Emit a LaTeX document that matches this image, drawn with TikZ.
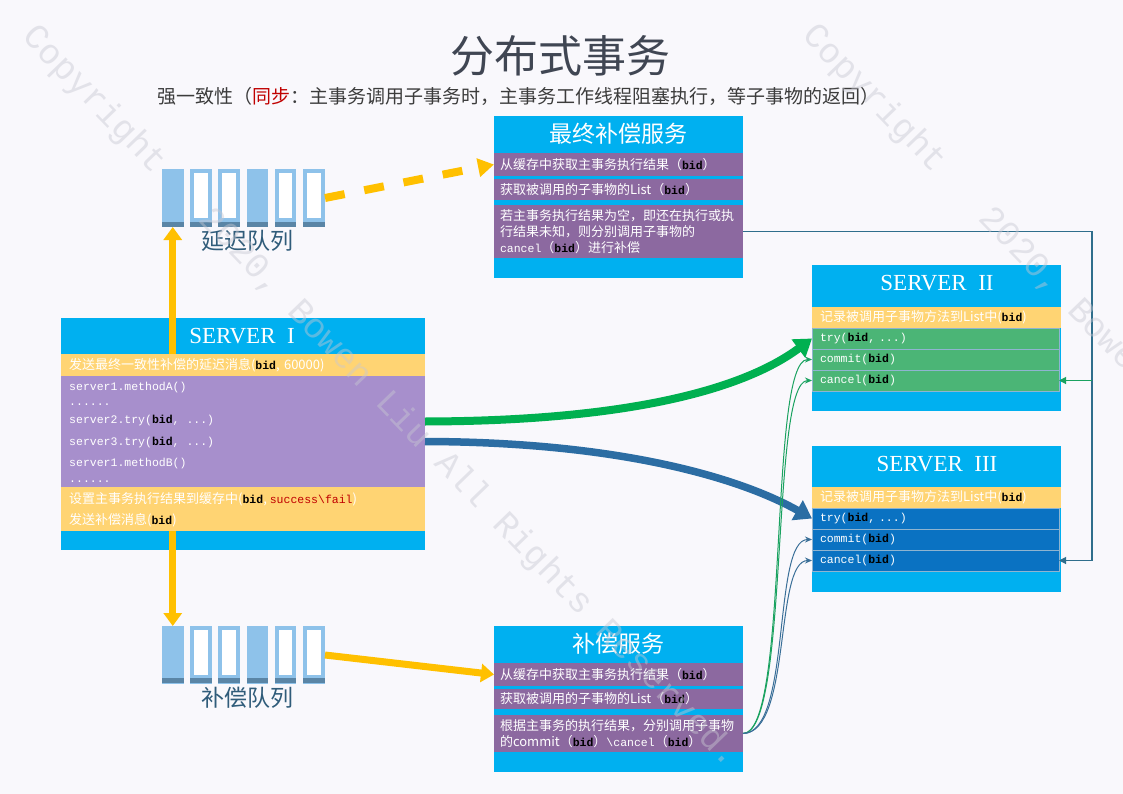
\documentclass[tikz,border=0pt]{standalone}
\usepackage{fontspec}
\setmainfont{Noto Sans CJK SC}
\setmonofont{Liberation Mono}
\newfontfamily\serifen{Liberation Serif}
\newfontfamily\wmfont{Liberation Mono}
\usetikzlibrary{arrows.meta}
\definecolor{bgc}{RGB}{249,248,252}
\definecolor{cyanc}{HTML}{00B0F0}
\definecolor{purS}{HTML}{8C69A0}
\definecolor{purL}{HTML}{A78FCC}
\definecolor{yelR}{HTML}{FFD473}
\definecolor{grnR}{HTML}{4BB576}
\definecolor{bluR}{HTML}{0A72C2}
\definecolor{rowln}{HTML}{8FB4D0}
\definecolor{arrY}{HTML}{FFC000}
\definecolor{arrG}{HTML}{00B050}
\definecolor{arrB}{HTML}{2C6DA3}
\definecolor{thinG}{HTML}{1AA260}
\definecolor{thinB}{HTML}{3A6F98}
\definecolor{elbC}{HTML}{2F6E8C}
\definecolor{qbar}{HTML}{8EC2EA}
\definecolor{qdark}{HTML}{5A85A6}
\definecolor{qlab}{HTML}{305C7A}
\definecolor{titc}{HTML}{404653}
\definecolor{subc}{HTML}{3C3C3C}
\definecolor{redc}{HTML}{C00000}
\definecolor{wmc}{RGB}{200,200,210}
\newcommand\monoS{\ttfamily\fontsize{11.5}{14}\selectfont}
\newcommand\bidtxt{\textcolor{black}{\monoS\bfseries bid}}
\begin{document}
\begin{tikzpicture}[x=1pt,y=-1pt,
  cbox/.style={fill=cyanc, inner sep=0pt, outer sep=0pt, anchor=north west, minimum width=249pt, minimum height=146pt},
  hdrtxt/.style={text=white, inner sep=0pt, font=\fontsize{23}{26}\selectfont},
  srvtxt/.style={text=white, inner sep=0pt, font=\serifen\fontsize{23}{26}\selectfont},
  rowst/.style={anchor=north west, inner xsep=6pt, inner ysep=0pt, outer sep=0pt, align=left, text=white, font=\fontsize{13}{16}\selectfont},
  svcrow/.style={rowst, fill=purS, text width=237pt},
  yrow/.style={rowst, fill=yelR, inner xsep=8pt},
  grnrow/.style={rowst, fill=grnR, draw=rowln, line width=0.6pt, inner xsep=8pt, text width=231pt, minimum height=21pt, font=\monoS},
  blurow/.style={grnrow, fill=bluR},
  codetxt/.style={anchor=west, inner sep=0pt, text=white, font=\monoS},
  ctext/.style={anchor=west, inner sep=0pt, text=white, font=\fontsize{13}{16}\selectfont},
  qbarst/.style={fill=qbar, inner sep=0pt, outer sep=0pt, minimum width=21.5pt, minimum height=58pt, anchor=north west},
  qarea/.style={inner sep=0pt, outer sep=0pt, minimum width=163pt, minimum height=58pt, anchor=north west},
  qlabel/.style={text=qlab, inner sep=0pt, font=\fontsize{23}{26}\selectfont},
  yarrow/.style={draw=arrY, line width=7pt, -{Triangle[length=13pt,width=18pt]}},
  ydash/.style={draw=arrY, line width=8pt, dash pattern=on 20pt off 20pt, -{Triangle[length=16pt,width=18pt]}},
  garrow/.style={draw=arrG, line width=8pt, -{Triangle[length=17pt,width=22pt]}},
  barrow/.style={draw=arrB, line width=7.5pt, -{Triangle[length=17pt,width=22pt]}},
  thing/.style={draw=thinG, line width=1pt, -{Stealth[length=7pt,width=6pt]}},
  thinb/.style={draw=thinB, line width=1pt, -{Stealth[length=7pt,width=6pt]}},
  elb/.style={draw=elbC, line width=1.1pt, -{Triangle[length=7pt,width=7pt]}},
  elbg/.style={draw=thinG, line width=1.1pt, -{Triangle[length=7pt,width=7pt]}},
  wmark/.style={inner sep=0pt, text=wmc, text opacity=0.45, font=\wmfont\fontsize{35.3}{40}\selectfont}
]
\useasboundingbox (0,0) rectangle (1123,794);
\fill[bgc] (0,0) rectangle (1123,794);

% title
\node[text=titc, inner sep=0pt, font=\fontsize{44}{48}\selectfont] (title) at (560,56) {分布式事务};
\node[text=subc, inner sep=0pt, font=\fontsize{19}{22}\selectfont] (sub) at (518,96) {强一致性（\textcolor{redc}{同步}：主事务调用子事务时，主事务工作线程阻塞执行，等子事物的返回）};

% final compensation service
\node[cbox, minimum height=162pt] (fb) at (494,116) {};
\node[hdrtxt] (fbt) at (618.5,134) {最终补偿服务};
\node[svcrow, minimum height=23pt] (fb1) at (494,153) {从缓存中获取主事务执行结果（\bidtxt）};
\node[svcrow, minimum height=21pt] (fb2) at (494,179) {获取被调用的子事物的List（\bidtxt）};
\node[svcrow, minimum height=53pt] (fb3) at (494,205) {若主事务执行结果为空，即还在执行或执\\行结果未知，则分别调用子事物的\\{\monoS cancel}（\bidtxt）进行补偿};

% compensation service
\node[cbox] (cb) at (494,626) {};
\node[hdrtxt] (cbt) at (618.5,644) {补偿服务};
\node[svcrow, minimum height=23pt] (cb1) at (494,663) {从缓存中获取主事务执行结果（\bidtxt）};
\node[svcrow, minimum height=20pt] (cb2) at (494,689) {获取被调用的子事物的List（\bidtxt）};
\node[svcrow, minimum height=37pt] (cb3) at (494,715) {根据主事务的执行结果，分别调用子事物\\的commit（\bidtxt）{\monoS\textbackslash cancel}（\bidtxt）};

% SERVER I
\node[cbox, minimum width=364pt, minimum height=232pt] (s1) at (61,318) {};
\node[srvtxt] (s1t) at (242,336) {SERVER~~I};
\node[yrow, text width=348pt, minimum height=22pt] (s1r1) at (61,354) {发送最终一致性补偿的延迟消息(\bidtxt, 60000)};
\node[rowst, fill=purL, minimum width=364pt, minimum height=111pt] (s1r2) at (61,376) {};
\node[yrow, minimum width=364pt, minimum height=44pt] (s1r3) at (61,487) {};
\node[codetxt] (c1) at (69,388) {server1.methodA()};
\node[codetxt] (c2) at (69,405) {......};
\node[codetxt] (c3) at (69,421) {server2.try(\bidtxt, ...)};
\node[codetxt] (c4) at (69,443) {server3.try(\bidtxt, ...)};
\node[codetxt] (c5) at (69,464) {server1.methodB()};
\node[codetxt] (c6) at (69,482) {......};
\node[ctext] (t1) at (69,499) {设置主事务执行结果到缓存中(\bidtxt, \textcolor{redc}{\monoS success\textbackslash fail})};
\node[ctext] (t2) at (69,520) {发送补偿消息(\bidtxt)};

% SERVER II
\node[cbox] (s2) at (812,265) {};
\node[srvtxt] (s2t) at (937,283) {SERVER~~II};
\node[yrow, text width=233pt, minimum height=21pt] (s2y) at (812,307) {记录被调用子事物方法到List中(\bidtxt)};
\node[grnrow] (s2a) at (812,328) {try(\bidtxt, ...)};
\node[grnrow] (s2b) at (812,349) {commit(\bidtxt)};
\node[grnrow] (s2c) at (812,370) {cancel(\bidtxt)};

% SERVER III
\node[cbox] (s3) at (812,446) {};
\node[srvtxt] (s3t) at (937,464) {SERVER~~III};
\node[yrow, text width=233pt, minimum height=21pt] (s3y) at (812,487) {记录被调用子事物方法到List中(\bidtxt)};
\node[blurow] (s3a) at (812,508) {try(\bidtxt, ...)};
\node[blurow] (s3b) at (812,529) {commit(\bidtxt)};
\node[blurow] (s3c) at (812,550) {cancel(\bidtxt)};

% queues
\node[qarea] (dq) at (162,169) {};
\foreach \i/\h in {1/0,2/1,3/1,4/0,5/1,6/1}{
  \pgfmathsetmacro\bx{162+28.2*(\i-1)}
  \node[qbarst] (dqb\i) at (\bx,169) {};
  \fill[qdark] (\bx,222) rectangle ++(21.5,5);
  \ifnum\h=1 \fill[white] (\bx+4,173) rectangle (\bx+17.5,218);\fi
}
\node[qlabel] (dql) at (247,241) {延迟队列};

\node[qarea] (cq) at (162,626) {};
\foreach \i/\h in {1/0,2/1,3/1,4/0,5/1,6/1}{
  \pgfmathsetmacro\bx{162+28.2*(\i-1)}
  \node[qbarst] (cqb\i) at (\bx,626) {};
  \fill[qdark] (\bx,678) rectangle ++(21.5,5);
  \ifnum\h=1 \fill[white] (\bx+4,630) rectangle (\bx+17.5,675);\fi
}
\node[qlabel] (cql) at (247,698) {补偿队列};

% connectors
\draw[yarrow] (dqb1.south |- s1r1.north) -- (dqb1.south);
\draw[yarrow] (cqb1.north |- s1r3.south) -- (cqb1.north);
\draw[ydash] (dq.east) -- (fb1.west);
\draw[yarrow] (cq.east) -- (cb1.west);
\draw[garrow] ([yshift=10pt]s1r2.east) .. controls (620,421) and (740,392) .. (s2a.west);
\draw[barrow] ([yshift=-10pt]s1r2.east) .. controls (620,442) and (740,478) .. (s3a.west);
\draw[thing] (cb3.east) .. controls (790,733) and (768,359.5) .. (s2b.west);
\draw[thing] (cb3.east) .. controls (790,733) and (770,380.5) .. (s2c.west);
\draw[thinb] (cb3.east) .. controls (792,733) and (772,539.5) .. (s3b.west);
\draw[thinb] (cb3.east) .. controls (792,733) and (774,560.5) .. (s3c.west);
\coordinate (elbx) at (1092,232);
\draw[elb] (fb3.east) -- (fb3.east -| elbx) -- (elbx |- s3c.east) -- (s3c.east);
\draw[elbg] (elbx |- s2c.east) -- (s2c.east);

% watermark
\begin{scope}
\clip (0,0) rectangle (1123,794);
\node[wmark, anchor=west, rotate=-46] (wm1) at (27.6,31.4) {Copyright~~~2020, Bowen Liu All Rights Reserved.};
\node[wmark, anchor=west, rotate=-46] (wm2) at (807.6,30.4) {Copyright~~~2020, Bowen Liu All Rights Reserved.};
\end{scope}
\end{tikzpicture}
\end{document}
